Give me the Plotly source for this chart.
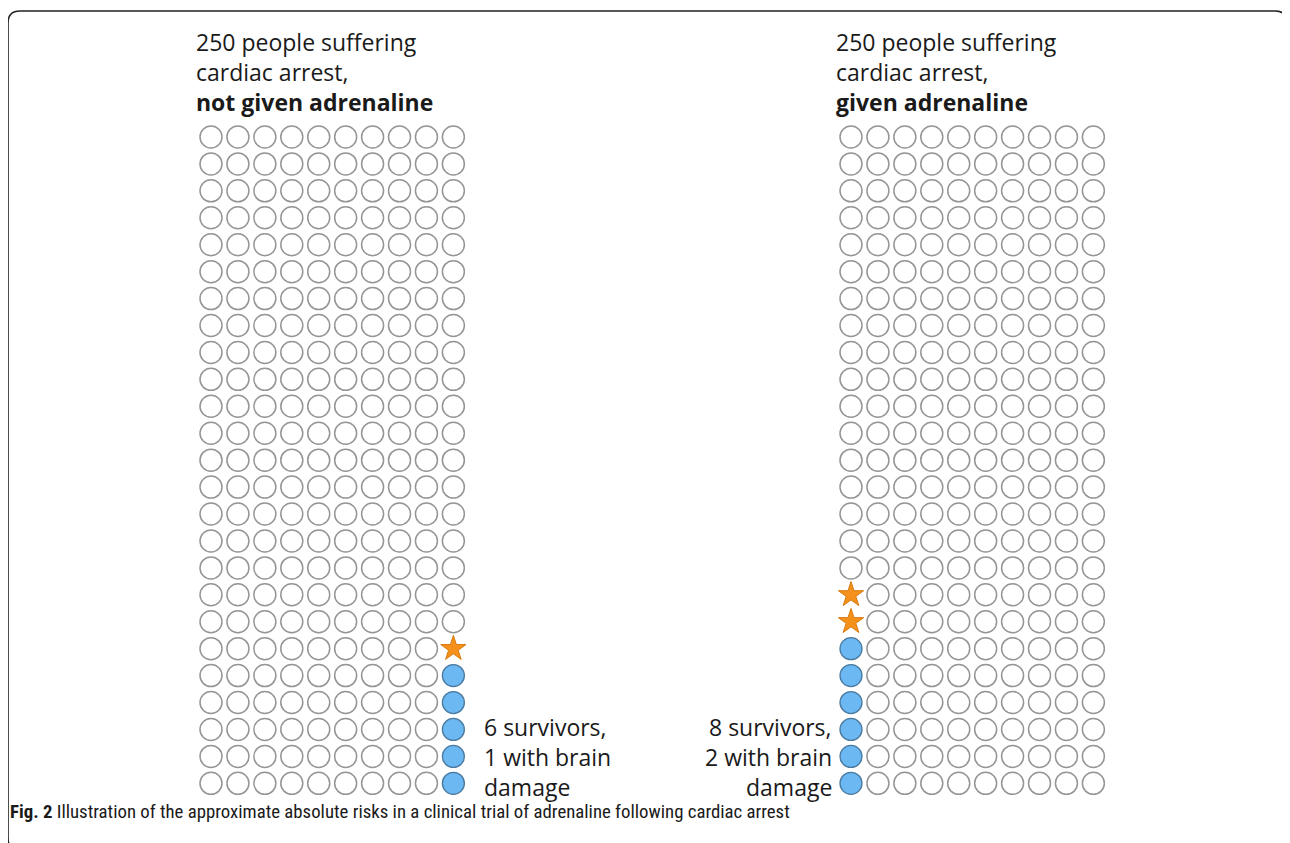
import plotly.graph_objects as go

# ---- data ----
groups = ["not given adrenaline", "given adrenaline"]
people = [250, 250]
survivors = [6, 8]
brain_damage = [1, 2]
n_cols = 10
n_rows = 25
title_lines = ["250 people suffering", "cardiac arrest,"]
note_lines = [["6 survivors,", "1 with brain", "damage"],
              ["8 survivors,", "2 with brain", "damage"]]
caption_bold = "Fig. 2"
caption_text = "Illustration of the approximate absolute risks in a clinical trial of adrenaline following cardiac arrest"

# ---- layout constants (pixel space of the window) ----
W, H = 1290, 843
OFF = 8  # page body margin
pitch = 26.93
grid_left = [211, 851]   # x of first column centre
grid_top = 137           # y of top row centre
fill_col = [n_cols - 1, 0]  # column where survivors are stacked

fig = go.Figure()

for g in range(len(groups)):
    ex, ey, sx, sy, bx, by = [], [], [], [], [], []
    n_surv = survivors[g]
    n_bd = brain_damage[g]
    for r in range(n_rows):
        for c in range(n_cols):
            x = grid_left[g] + c * pitch
            y = grid_top + r * pitch
            k = n_rows - 1 - r  # index from bottom
            if c == fill_col[g] and k < n_surv:
                if k < n_surv - n_bd:
                    bx.append(x); by.append(y)
                else:
                    sx.append(x); sy.append(y)
            else:
                ex.append(x); ey.append(y)
    fig.add_trace(go.Scatter(x=ex, y=ey, mode="markers", hoverinfo="skip",
                             marker=dict(symbol="circle", size=22, color="white",
                                         line=dict(color="#959595", width=1.5))))
    fig.add_trace(go.Scatter(x=bx, y=by, mode="markers", hoverinfo="skip",
                             marker=dict(symbol="circle", size=22, color="#6cb8f2",
                                         line=dict(color="#4a7aa0", width=1.3))))
    fig.add_trace(go.Scatter(x=sx, y=sy, mode="markers", hoverinfo="skip",
                             marker=dict(symbol="star", size=19, color="#f5901a",
                                         line=dict(color="#d87a10", width=1))))

font_main = "Open Sans"
fs = 23
title_x = [194, 834]
for g in range(len(groups)):
    for i, line in enumerate(title_lines + ["<b>" + groups[g] + "</b>"]):
        fig.add_annotation(x=title_x[g], y=42 + i * 30, text=line, showarrow=False,
                           xanchor="left", yanchor="middle",
                           font=dict(family=font_main, size=fs, color="#1a1a1a"))
    for i, line in enumerate(note_lines[g]):
        if g == 0:
            fig.add_annotation(x=482, y=727 + i * 30, text=line, showarrow=False,
                               xanchor="left", yanchor="middle",
                               font=dict(family=font_main, size=fs, color="#1a1a1a"))
        else:
            fig.add_annotation(x=834, y=727 + i * 30, text=line, showarrow=False,
                               xanchor="right", yanchor="middle",
                               font=dict(family=font_main, size=fs, color="#1a1a1a"))

fig.add_annotation(x=8, y=812, text="<b>" + caption_bold + "</b> " + caption_text,
                   showarrow=False, xanchor="left", yanchor="middle",
                   font=dict(family="Roboto Condensed, Liberation Sans Narrow, Noto Sans", size=18.8, color="#1a1a1a"))

# rounded frame
x0, y0, x1, y1, rr = 8, 11, 1287, 850, 12
path = (f"M{x0+rr},{y0} L{x1-rr},{y0} Q{x1},{y0} {x1},{y0+rr} L{x1},{y1-rr} "
        f"Q{x1},{y1} {x1-rr},{y1} L{x0+rr},{y1} Q{x0},{y1} {x0},{y1-rr} "
        f"L{x0},{y0+rr} Q{x0},{y0} {x0+rr},{y0} Z")
fig.add_shape(type="path", path=path, xref="x", yref="y",
              line=dict(color="#222222", width=1.6))

fig.update_layout(width=W - OFF, height=H - OFF, margin=dict(l=0, r=0, t=0, b=0),
                  paper_bgcolor="white", plot_bgcolor="white", showlegend=False,
                  xaxis=dict(range=[OFF, W], visible=False, fixedrange=True),
                  yaxis=dict(range=[H, OFF], visible=False, fixedrange=True))

fig.write_html("out.html", config={"displayModeBar": False})
